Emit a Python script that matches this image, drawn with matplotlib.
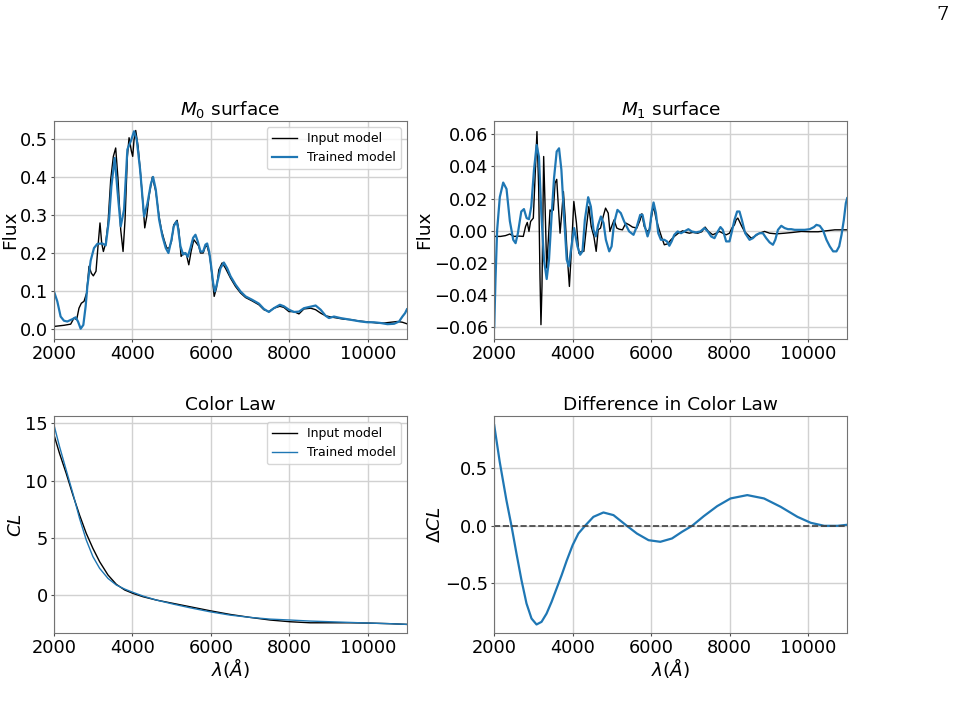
import matplotlib

matplotlib.use("Agg")
import matplotlib.pyplot as plt

BLUE = "#1f77b4"

# M0 surface, input model (black)
m0_in_wave = [2000, 2255, 2426, 2511, 2579, 2638, 2698, 2766, 2834, 2894, 2953, 3004, 3072,
              3123, 3174, 3217, 3260, 3319, 3379, 3447, 3515, 3574, 3634, 3702, 3762, 3813,
              3872, 3915, 3974, 4008, 4042, 4085, 4145, 4213, 4281, 4315, 4366, 4425, 4510,
              4596, 4681, 4740, 4808, 4876, 4936, 4996, 5055, 5140, 5183, 5242, 5310, 5378,
              5438, 5497, 5566, 5634, 5693, 5736, 5804, 5863, 5906, 5974, 6034, 6085, 6144,
              6204, 6289, 6374, 6502, 6629, 6757, 6885, 7055, 7225, 7353, 7480, 7608, 7761,
              7863, 7991, 8119, 8247, 8374, 8545, 8672, 8800, 8927, 9055, 9225, 9396, 9566,
              9736, 9906, 10076, 10247, 10417, 10587, 10757, 10885, 11000]
m0_in_flux = [0.007, 0.010, 0.013, 0.029, 0.025, 0.055, 0.068, 0.073, 0.095, 0.165, 0.147,
              0.140, 0.152, 0.218, 0.279, 0.226, 0.204, 0.226, 0.279, 0.393, 0.454, 0.476,
              0.393, 0.261, 0.204, 0.288, 0.454, 0.503, 0.468, 0.454, 0.498, 0.522, 0.480,
              0.402, 0.314, 0.266, 0.296, 0.350, 0.400, 0.362, 0.296, 0.261, 0.235, 0.213,
              0.213, 0.230, 0.274, 0.286, 0.261, 0.191, 0.200, 0.196, 0.169, 0.204, 0.235,
              0.226, 0.218, 0.200, 0.200, 0.218, 0.218, 0.191, 0.139, 0.086, 0.108, 0.156,
              0.174, 0.160, 0.134, 0.112, 0.095, 0.083, 0.074, 0.064, 0.051, 0.046, 0.055,
              0.060, 0.057, 0.046, 0.046, 0.040, 0.053, 0.055, 0.051, 0.042, 0.035, 0.032,
              0.029, 0.026, 0.025, 0.022, 0.020, 0.018, 0.016, 0.016, 0.018, 0.020, 0.018,
              0.014]

# M0 surface, trained model (blue)
m0_tr_wave = [2000, 2085, 2170, 2255, 2340, 2468, 2553, 2613, 2681, 2749, 2808, 2851, 2936,
              3021, 3106, 3234, 3319, 3404, 3464, 3549, 3617, 3702, 3787, 3872, 3974, 4042,
              4110, 4196, 4298, 4383, 4468, 4527, 4596, 4681, 4766, 4851, 4919, 4996, 5055,
              5123, 5157, 5225, 5293, 5353, 5412, 5480, 5549, 5608, 5668, 5736, 5804, 5863,
              5906, 5957, 6008, 6059, 6102, 6161, 6246, 6332, 6417, 6502, 6629, 6757, 6885,
              7055, 7225, 7353, 7480, 7608, 7761, 7863, 7991, 8119, 8247, 8374, 8502, 8672,
              8800, 8927, 9013, 9140, 9310, 9481, 9651, 9821, 9991, 10161, 10332, 10502,
              10672, 10800, 10885, 10953, 11000]
m0_tr_flux = [0.099, 0.073, 0.033, 0.022, 0.020, 0.026, 0.031, 0.020, 0.001, 0.011, 0.060,
              0.112, 0.180, 0.213, 0.224, 0.225, 0.220, 0.288, 0.375, 0.450, 0.367, 0.270,
              0.314, 0.472, 0.498, 0.520, 0.498, 0.420, 0.296, 0.330, 0.380, 0.400, 0.367,
              0.288, 0.244, 0.213, 0.200, 0.235, 0.270, 0.283, 0.270, 0.218, 0.196, 0.200,
              0.190, 0.213, 0.240, 0.248, 0.230, 0.204, 0.204, 0.222, 0.225, 0.204, 0.165,
              0.121, 0.099, 0.121, 0.160, 0.175, 0.160, 0.139, 0.117, 0.099, 0.086, 0.077,
              0.067, 0.053, 0.045, 0.055, 0.064, 0.060, 0.051, 0.045, 0.046, 0.055, 0.058,
              0.062, 0.051, 0.035, 0.029, 0.033, 0.029, 0.026, 0.023, 0.020, 0.018, 0.018,
              0.016, 0.013, 0.014, 0.020, 0.033, 0.042, 0.052]

# M1 surface, input model (black)
m1_in_wave = [2000, 2160, 2288, 2399, 2501, 2630, 2741, 2800, 2843, 2886, 2928, 2997, 3039,
              3090, 3133, 3167, 3192, 3218, 3261, 3295, 3338, 3380, 3423, 3457, 3508, 3551,
              3594, 3636, 3679, 3722, 3764, 3807, 3858, 3917, 3969, 4030, 4097, 4157, 4225,
              4285, 4353, 4413, 4473, 4541, 4600, 4651, 4711, 4779, 4839, 4907, 4950, 4993,
              5057, 5125, 5185, 5270, 5356, 5441, 5526, 5637, 5722, 5765, 5825, 5893, 5953,
              6012, 6063, 6123, 6208, 6277, 6337, 6422, 6507, 6592, 6695, 6806, 6891, 6976,
              7061, 7189, 7291, 7377, 7462, 7573, 7658, 7743, 7828, 7914, 7999, 8060, 8126,
              8169, 8211, 8254, 8314, 8382, 8467, 8553, 8638, 8766, 8894, 9022, 9192, 9405,
              9619, 9832, 10045, 10259, 10472, 10685, 10856, 11000]
m1_in_flux = [-0.0035, -0.0035, -0.0030, -0.0020, -0.0035, -0.0033, -0.0035, 0.0027, 0.0052,
              -0.0004, 0.0058, 0.0079, 0.0317, 0.0617, 0.0275, -0.0284, -0.0584, -0.0346,
              0.0462, 0.0172, -0.0232, -0.0056, 0.0130, 0.0120, 0.0130, 0.0296, 0.0320,
              0.0151, -0.0015, 0.0110, 0.0244, 0.0089, -0.0139, -0.0346, -0.0118, 0.0182,
              0.0048, -0.0139, -0.0128, -0.0128, 0.0027, 0.0151, 0.0027, -0.0035, -0.0128,
              0.0006, 0.0017, 0.0089, 0.0141, 0.0110, -0.0004, 0.0027, 0.0068, 0.0017,
              0.0010, 0.0006, 0.0048, 0.0037, 0.0023, 0.0017, 0.0068, 0.0106, 0.0027,
              -0.0004, 0.0006, 0.0089, 0.0155, 0.0079, 0.0006, -0.0046, -0.0087, -0.0081,
              -0.0056, -0.0035, -0.0015, 0.0000, -0.0010, -0.0015, -0.0010, -0.0015, -0.0006,
              0.0023, -0.0004, -0.0025, -0.0015, -0.0004, -0.0015, -0.0025, -0.0015, 0.0017,
              0.0037, 0.0068, 0.0079, 0.0058, 0.0027, -0.0004, -0.0025, -0.0046, -0.0035,
              -0.0015, -0.0004, -0.0015, -0.0019, -0.0015, -0.0010, -0.0004, -0.0006,
              -0.0006, 0.0000, 0.0006, 0.0006, 0.0006]

# M1 surface, trained model (blue)
m1_tr_wave = [2000, 2033, 2075, 2143, 2229, 2314, 2399, 2485, 2545, 2604, 2690, 2758, 2826,
              2886, 2945, 3014, 3082, 3141, 3201, 3269, 3338, 3397, 3457, 3525, 3593, 3653,
              3713, 3781, 3849, 3901, 3969, 4037, 4123, 4191, 4251, 4311, 4396, 4464, 4532,
              4592, 4651, 4720, 4788, 4847, 4933, 4993, 5057, 5142, 5228, 5313, 5441, 5552,
              5637, 5722, 5782, 5842, 5910, 5961, 6012, 6063, 6123, 6183, 6251, 6337, 6405,
              6465, 6524, 6592, 6678, 6763, 6848, 6951, 7036, 7147, 7257, 7360, 7445, 7530,
              7616, 7701, 7769, 7829, 7914, 7999, 8060, 8126, 8194, 8254, 8314, 8399, 8510,
              8595, 8681, 8766, 8851, 8936, 9022, 9107, 9167, 9235, 9320, 9405, 9490, 9575,
              9661, 9789, 9917, 10045, 10153, 10216, 10301, 10386, 10472, 10557, 10642,
              10727, 10796, 10856, 10915, 10966, 11000]
m1_tr_flux = [-0.0600, -0.0300, 0.0006, 0.0210, 0.0300, 0.0260, 0.0060, -0.0056, -0.0077,
              -0.0015, 0.0120, 0.0135, 0.0079, 0.0072, 0.0151, 0.0379, 0.0534, 0.0460,
              0.0110, -0.0180, -0.0300, -0.0180, 0.0068, 0.0327, 0.0493, 0.0513, 0.0379,
              0.0089, -0.0180, -0.0221, -0.0097, 0.0017, -0.0097, -0.0149, -0.0128, 0.0068,
              0.0209, 0.0151, 0.0006, -0.0035, 0.0037, 0.0089, 0.0048, -0.0056, -0.0128,
              -0.0097, 0.0048, 0.0130, 0.0110, 0.0058, -0.0004, -0.0025, 0.0027, 0.0099,
              0.0099, 0.0027, -0.0035, 0.0006, 0.0110, 0.0176, 0.0110, -0.0015, -0.0056,
              -0.0056, -0.0066, -0.0093, -0.0066, -0.0025, -0.0004, -0.0015, -0.0004, 0.0010,
              -0.0004, -0.0010, -0.0004, 0.0017, -0.0004, -0.0035, -0.0046, -0.0004, 0.0023,
              0.0006, -0.0066, -0.0066, -0.0004, 0.0068, 0.0120, 0.0120, 0.0068, -0.0015,
              -0.0056, -0.0046, -0.0025, -0.0015, -0.0015, -0.0046, -0.0072, -0.0087,
              -0.0056, 0.0006, 0.0031, 0.0017, 0.0010, 0.0010, 0.0006, 0.0006, 0.0006,
              0.0010, 0.0023, 0.0037, 0.0031, 0.0002, -0.0056, -0.0097, -0.0128, -0.0128,
              -0.0097, -0.0025, 0.0068, 0.0172, 0.0203]

# colour law
cl_wave = [2000, 2140, 2311, 2482, 2652, 2823, 2993, 3164, 3377, 3591, 3804, 4017, 4273,
           4614, 5041, 5467, 5979, 6491, 7003, 7514, 8026, 8538, 9050, 9562, 10073, 10585,
           11000]
cl_input = [14.0, 12.4, 10.65, 8.76, 7.01, 5.41, 4.10, 2.94, 1.78, 0.96, 0.47, 0.17, -0.12,
            -0.41, -0.70, -0.99, -1.34, -1.66, -1.92, -2.15, -2.30, -2.39, -2.39, -2.39,
            -2.42, -2.47, -2.53]
cl_trained = [14.87, 13.0, 10.94, 8.9, 6.72, 4.83, 3.38, 2.36, 1.48, 0.90, 0.55, 0.26, -0.06,
              -0.41, -0.76, -1.08, -1.43, -1.72, -1.92, -2.07, -2.15, -2.24, -2.30, -2.36,
              -2.42, -2.47, -2.53]

# difference in colour law
dcl_wave = [2000, 2140, 2311, 2440, 2567, 2695, 2823, 2951, 3079, 3207, 3335, 3463, 3591,
            3719, 3847, 4000, 4146, 4316, 4529, 4785, 5041, 5382, 5638, 5936, 6235, 6533,
            6789, 7045, 7344, 7685, 8026, 8453, 8879, 9306, 9732, 10073, 10415, 10756,
            11000]
dcl = [0.875, 0.557, 0.223, 0.000, -0.240, -0.472, -0.675, -0.806, -0.858, -0.835, -0.763,
       -0.661, -0.545, -0.429, -0.304, -0.168, -0.067, 0.000, 0.078, 0.116, 0.093, 0.000,
       -0.067, -0.125, -0.139, -0.110, -0.052, 0.000, 0.084, 0.171, 0.238, 0.267, 0.238,
       0.165, 0.078, 0.026, 0.000, 0.000, 0.009]

XTICKS = [2000, 4000, 6000, 8000, 10000]
FS = 13.3


def style(ax):
    ax.grid(True, color="0.82", linewidth=1.0)
    ax.set_axisbelow(True)
    for sp in ax.spines.values():
        sp.set_edgecolor("0.45")
    ax.tick_params(labelsize=12.8, color="0.3", length=2.2, pad=2.2)
    ax.set_xlim(2000, 11000)
    ax.set_xticks(XTICKS)


fig = plt.figure(figsize=(9.55, 7.27), dpi=100)
w = 0.3696
ax1 = fig.add_axes([0.0565, 0.5337, w, 0.2999])
ax2 = fig.add_axes([0.5175, 0.5337, w, 0.2999])
ax3 = fig.add_axes([0.0565, 0.1293, w, 0.2985])
ax4 = fig.add_axes([0.5175, 0.1293, w, 0.2985])

ax1.plot(m0_in_wave, m0_in_flux, color="k", lw=1.0, label="Input model")
ax1.plot(m0_tr_wave, m0_tr_flux, color=BLUE, lw=1.6, label="Trained model")
style(ax1)
ax1.set_ylim(-0.026, 0.547)
ax1.set_yticks([0.0, 0.1, 0.2, 0.3, 0.4, 0.5])
ax1.set_ylabel("Flux", fontsize=FS, labelpad=0.5)
ax1.set_title("$M_0$ surface", fontsize=FS, pad=4)
ax1.legend(loc="upper right", fontsize=9)

ax2.plot(m1_in_wave, m1_in_flux, color="k", lw=1.0)
ax2.plot(m1_tr_wave, m1_tr_flux, color=BLUE, lw=1.6)
style(ax2)
ax2.set_ylim(-0.0673, 0.0683)
ax2.set_yticks([-0.06, -0.04, -0.02, 0.0, 0.02, 0.04, 0.06])
ax2.set_ylabel("Flux", fontsize=FS, labelpad=0.5)
ax2.set_title("$M_1$ surface", fontsize=FS, pad=4)

ax3.plot(cl_wave, cl_input, color="k", lw=1.0, label="Input model")
ax3.plot(cl_wave, cl_trained, color=BLUE, lw=1.0, label="Trained model")
style(ax3)
ax3.set_ylim(-3.28, 15.64)
ax3.set_yticks([0, 5, 10, 15])
ax3.set_ylabel("$CL$", fontsize=FS, labelpad=0.5)
ax3.set_xlabel(r"$\lambda(\AA)$", fontsize=FS, labelpad=-1)
ax3.set_title("Color Law", fontsize=FS, pad=4)
ax3.legend(loc="upper right", fontsize=9)

ax4.plot(dcl_wave, dcl, color=BLUE, lw=1.6)
ax4.axhline(0, color="0.25", ls="--", lw=1.2)
style(ax4)
ax4.set_ylim(-0.932, 0.955)
ax4.set_yticks([-0.5, 0.0, 0.5])
ax4.set_ylabel(r"$\Delta CL$", fontsize=FS, labelpad=0.5)
ax4.set_xlabel(r"$\lambda(\AA)$", fontsize=FS, labelpad=-1)
ax4.set_title("Difference in Color Law", fontsize=FS, pad=4)

fig.text(0.993, 0.992, "7", fontsize=14, family="DejaVu Serif", ha="right", va="top")

fig.savefig("out.png", dpi=100, facecolor="white")
